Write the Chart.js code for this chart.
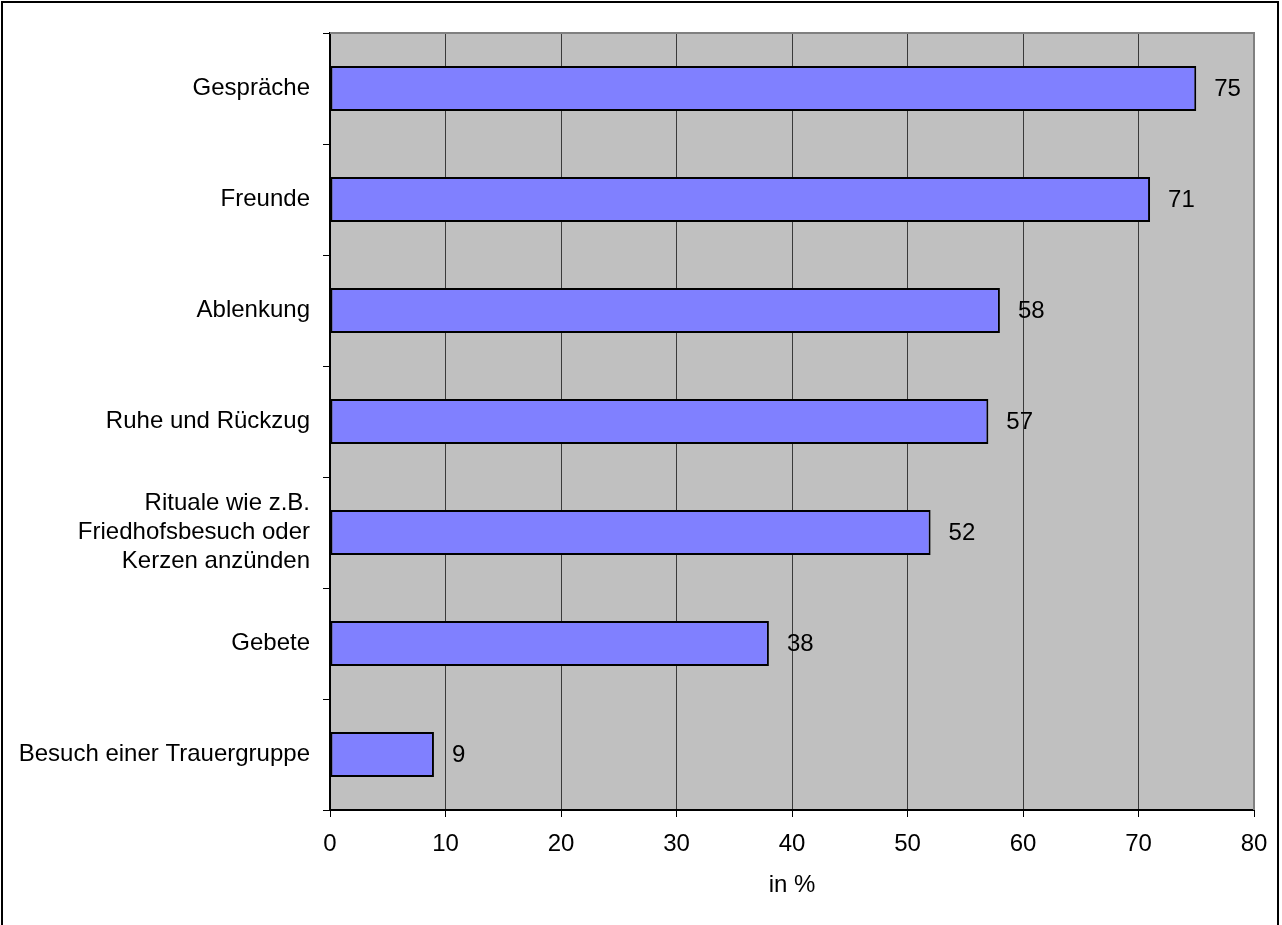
<!DOCTYPE html>
<html>
<head>
<meta charset="utf-8">
<script src="https://cdn.jsdelivr.net/npm/chart.js@4.4.1/dist/chart.umd.min.js"></script>
<style>
  html, body { margin: 0; padding: 0; background: #fff; overflow: hidden; }
  #wrap { position: relative; width: 1282px; height: 925px; }
  #c { position: absolute; left: 0; top: 0; }
  #frame { position: absolute; left: 1px; top: 1px; width: 1278px; height: 960px; box-sizing: border-box; border: 2px solid #000; pointer-events: none; }
</style>
</head>
<body>
<div id="wrap">
  <canvas id="c" width="1282" height="925"></canvas>
  <div id="frame"></div>
</div>
<script>
const categories = [
  'Gespräche',
  'Freunde',
  'Ablenkung',
  'Ruhe und Rückzug',
  ['Rituale wie z.B.', 'Friedhofsbesuch oder', 'Kerzen anzünden'],
  'Gebete',
  'Besuch einer Trauergruppe'
];
const values = [75, 71, 58, 57, 52, 38, 9];
const axisMin = 0;
const axisMax = 80;
const axisStep = 10;
const axisTitle = 'in %';

const FONT = { family: '"Liberation Sans", Arial, sans-serif', size: 24, lineHeight: 1.2 };

const bgPlugin = {
  id: 'bg',
  beforeDraw(chart) {
    const { ctx, chartArea: a } = chart;
    ctx.save();
    ctx.fillStyle = '#C0C0C0';
    ctx.fillRect(a.left, a.top, a.right - a.left, a.bottom - a.top);
    ctx.restore();
  },
  afterDatasetsDraw(chart) {
    const { ctx, chartArea: a } = chart;
    ctx.save();
    ctx.font = FONT.size + 'px ' + FONT.family;
    ctx.fillStyle = '#000';
    ctx.textAlign = 'left';
    ctx.textBaseline = 'middle';
    const meta = chart.getDatasetMeta(0);
    meta.data.forEach((bar, i) => {
      ctx.fillText(String(values[i]), bar.x + 18, bar.y + 1);
    });
    ctx.strokeStyle = '#808080';
    ctx.lineWidth = 2;
    ctx.beginPath();
    ctx.moveTo(a.left, a.top);
    ctx.lineTo(a.right, a.top);
    ctx.lineTo(a.right, a.bottom);
    ctx.stroke();
    ctx.restore();
  }
};

new Chart(document.getElementById('c'), {
  type: 'bar',
  data: {
    labels: categories,
    datasets: [{
      data: values,
      backgroundColor: '#8080FF',
      borderColor: '#000',
      borderWidth: 2,
      borderSkipped: false,
      barPercentage: 0.405,
      categoryPercentage: 1
    }]
  },
  options: {
    indexAxis: 'y',
    responsive: false,
    animation: false,
    devicePixelRatio: 1,
    layout: { padding: { left: 0, right: 28, top: 33, bottom: 0 } },
    plugins: { legend: { display: false }, tooltip: { enabled: false }, title: { display: false } },
    scales: {
      x: {
        type: 'linear',
        min: axisMin,
        max: axisMax,
        ticks: { stepSize: axisStep, color: '#000', font: FONT, padding: 13, maxRotation: 0 },
        grid: { color: '#3a3a3a', lineWidth: 1, drawTicks: true, tickLength: 7, tickColor: '#000' },
        border: { display: true, color: '#000', width: 2 },
        title: { display: true, text: axisTitle, color: '#000', font: FONT, padding: { top: 0, bottom: 25 } },
        afterFit(s) { s.height = 115; }
      },
      y: {
        type: 'category',
        offset: true,
        ticks: { color: '#000', font: FONT, padding: 13, autoSkip: false },
        grid: { drawOnChartArea: false, drawTicks: true, tickLength: 7, color: '#000', offset: true },
        border: { display: true, color: '#000', width: 2 },
        afterFit(s) { s.width = 330; }
      }
    }
  },
  plugins: [bgPlugin]
});
</script>
</body>
</html>
